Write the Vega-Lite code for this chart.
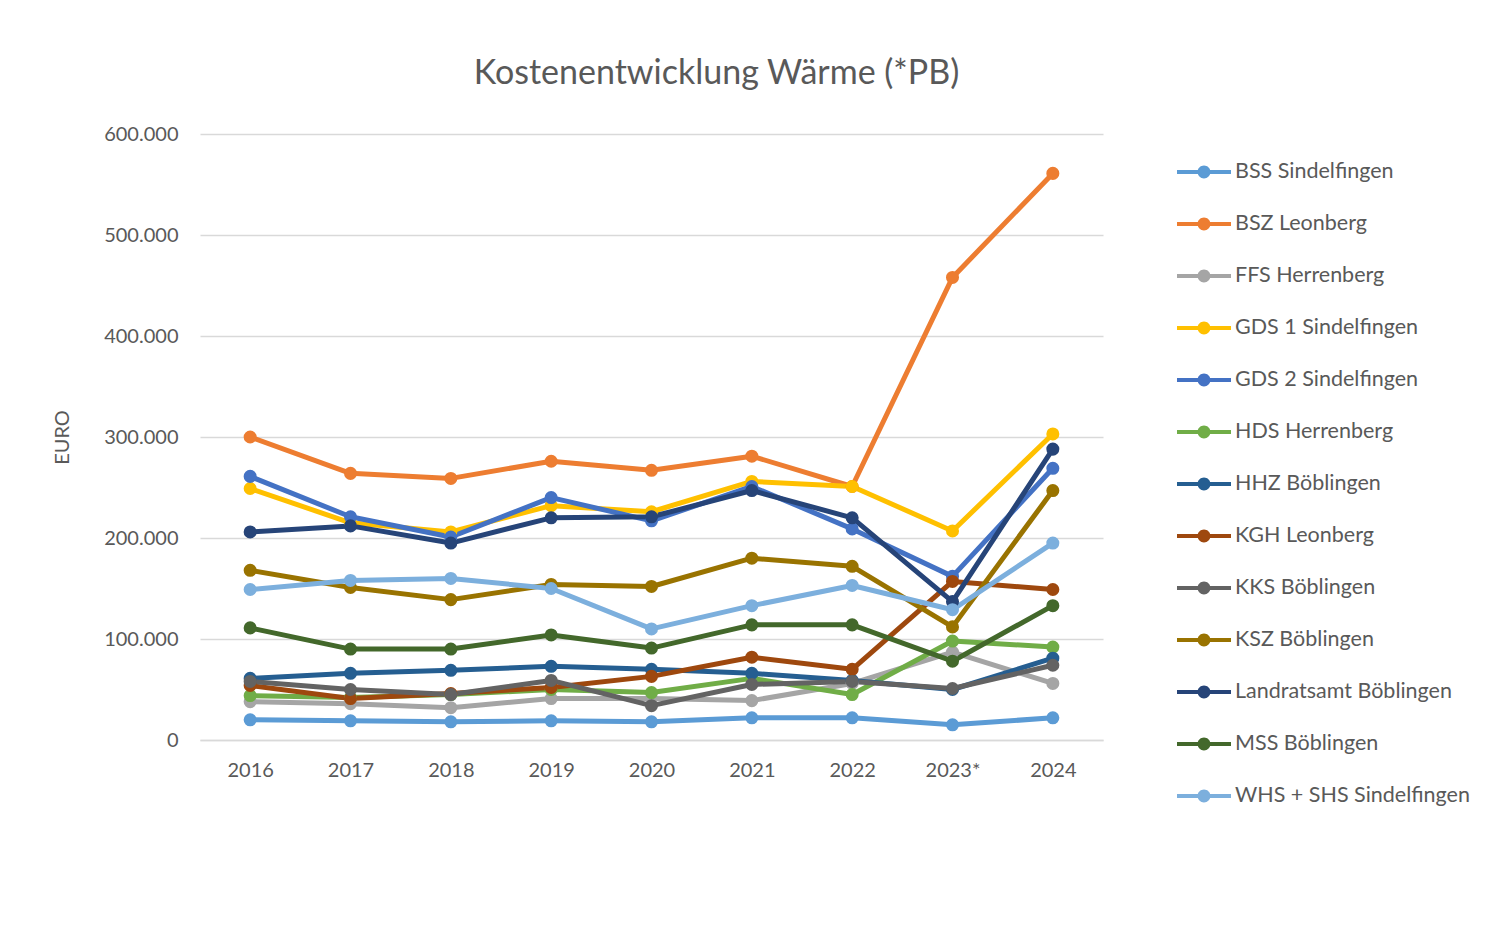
{
  "$schema": "https://vega.github.io/schema/vega-lite/v6.json",
  "width": 903,
  "height": 606,
  "autosize": {"type": "none"},
  "padding": {"left": 200, "top": 134, "right": 396, "bottom": 204},
  "background": "white",
  "title": {
    "text": "Kostenentwicklung Wärme (*PB)",
    "font": "Lato",
    "fontSize": 34,
    "fontWeight": "normal",
    "color": "#595959",
    "anchor": "middle",
    "dx": 65,
    "offset": 33
  },
  "data": {
    "values": [
      {"Jahr": "2016", "BSS Sindelfingen": 20000, "BSZ Leonberg": 300000, "FFS Herrenberg": 38000, "GDS 1 Sindelfingen": 249000, "GDS 2 Sindelfingen": 261000, "HDS Herrenberg": 44000, "HHZ Böblingen": 61000, "KGH Leonberg": 54000, "KKS Böblingen": 58000, "KSZ Böblingen": 168000, "Landratsamt Böblingen": 206000, "MSS Böblingen": 111000, "WHS + SHS Sindelfingen": 149000},
      {"Jahr": "2017", "BSS Sindelfingen": 19000, "BSZ Leonberg": 264000, "FFS Herrenberg": 36000, "GDS 1 Sindelfingen": 215000, "GDS 2 Sindelfingen": 221000, "HDS Herrenberg": 42000, "HHZ Böblingen": 66000, "KGH Leonberg": 41000, "KKS Böblingen": 50000, "KSZ Böblingen": 151000, "Landratsamt Böblingen": 212000, "MSS Böblingen": 90000, "WHS + SHS Sindelfingen": 158000},
      {"Jahr": "2018", "BSS Sindelfingen": 18000, "BSZ Leonberg": 259000, "FFS Herrenberg": 32000, "GDS 1 Sindelfingen": 206000, "GDS 2 Sindelfingen": 201000, "HDS Herrenberg": 45000, "HHZ Böblingen": 69000, "KGH Leonberg": 46000, "KKS Böblingen": 45000, "KSZ Böblingen": 139000, "Landratsamt Böblingen": 195000, "MSS Böblingen": 90000, "WHS + SHS Sindelfingen": 160000},
      {"Jahr": "2019", "BSS Sindelfingen": 19000, "BSZ Leonberg": 276000, "FFS Herrenberg": 41000, "GDS 1 Sindelfingen": 232000, "GDS 2 Sindelfingen": 240000, "HDS Herrenberg": 50000, "HHZ Böblingen": 73000, "KGH Leonberg": 52000, "KKS Böblingen": 59000, "KSZ Böblingen": 154000, "Landratsamt Böblingen": 220000, "MSS Böblingen": 104000, "WHS + SHS Sindelfingen": 150000},
      {"Jahr": "2020", "BSS Sindelfingen": 18000, "BSZ Leonberg": 267000, "FFS Herrenberg": 41000, "GDS 1 Sindelfingen": 226000, "GDS 2 Sindelfingen": 217000, "HDS Herrenberg": 47000, "HHZ Böblingen": 70000, "KGH Leonberg": 63000, "KKS Böblingen": 34000, "KSZ Böblingen": 152000, "Landratsamt Böblingen": 221000, "MSS Böblingen": 91000, "WHS + SHS Sindelfingen": 110000},
      {"Jahr": "2021", "BSS Sindelfingen": 22000, "BSZ Leonberg": 281000, "FFS Herrenberg": 39000, "GDS 1 Sindelfingen": 256000, "GDS 2 Sindelfingen": 251000, "HDS Herrenberg": 61000, "HHZ Böblingen": 66000, "KGH Leonberg": 82000, "KKS Böblingen": 55000, "KSZ Böblingen": 180000, "Landratsamt Böblingen": 247000, "MSS Böblingen": 114000, "WHS + SHS Sindelfingen": 133000},
      {"Jahr": "2022", "BSS Sindelfingen": 22000, "BSZ Leonberg": 251000, "FFS Herrenberg": 56000, "GDS 1 Sindelfingen": 251000, "GDS 2 Sindelfingen": 209000, "HDS Herrenberg": 45000, "HHZ Böblingen": 59000, "KGH Leonberg": 70000, "KKS Böblingen": 58000, "KSZ Böblingen": 172000, "Landratsamt Böblingen": 220000, "MSS Böblingen": 114000, "WHS + SHS Sindelfingen": 153000},
      {"Jahr": "2023*", "BSS Sindelfingen": 15000, "BSZ Leonberg": 458000, "FFS Herrenberg": 87000, "GDS 1 Sindelfingen": 207000, "GDS 2 Sindelfingen": 162000, "HDS Herrenberg": 98000, "HHZ Böblingen": 50000, "KGH Leonberg": 157000, "KKS Böblingen": 51000, "KSZ Böblingen": 112000, "Landratsamt Böblingen": 137000, "MSS Böblingen": 78000, "WHS + SHS Sindelfingen": 129000},
      {"Jahr": "2024", "BSS Sindelfingen": 22000, "BSZ Leonberg": 561000, "FFS Herrenberg": 56000, "GDS 1 Sindelfingen": 303000, "GDS 2 Sindelfingen": 269000, "HDS Herrenberg": 92000, "HHZ Böblingen": 81000, "KGH Leonberg": 149000, "KKS Böblingen": 74000, "KSZ Böblingen": 247000, "Landratsamt Böblingen": 288000, "MSS Böblingen": 133000, "WHS + SHS Sindelfingen": 195000}
    ]
  },
  "transform": [
    {"fold": ["BSS Sindelfingen", "BSZ Leonberg", "FFS Herrenberg", "GDS 1 Sindelfingen", "GDS 2 Sindelfingen", "HDS Herrenberg", "HHZ Böblingen", "KGH Leonberg", "KKS Böblingen", "KSZ Böblingen", "Landratsamt Böblingen", "MSS Böblingen", "WHS + SHS Sindelfingen"], "as": ["Standort", "Kosten"]}
  ],
  "encoding": {
    "x": {
      "field": "Jahr", "type": "ordinal", "sort": null,
      "scale": {"type": "point", "padding": 0.5},
      "axis": {"title": null, "labelAngle": 0, "labelFont": "Lato", "labelFontSize": 20, "labelColor": "#595959", "labelPadding": 20, "ticks": false, "domain": true, "domainColor": "#D9D9D9", "domainWidth": 1.5, "grid": false}
    },
    "y": {
      "field": "Kosten", "type": "quantitative",
      "scale": {"domain": [0, 600000], "nice": false},
      "axis": {"title": "EURO", "titleFont": "Lato", "titleFontSize": 20, "titleFontWeight": "normal", "titleColor": "#595959", "titlePadding": 31, "values": [0, 100000, 200000, 300000, 400000, 500000, 600000], "format": ",.0f", "labelFont": "Lato", "labelFontSize": 20, "labelColor": "#595959", "labelPadding": 22, "ticks": false, "domain": false, "grid": true, "gridColor": "#D9D9D9", "gridWidth": 1.5}
    },
    "color": {
      "field": "Standort", "type": "nominal",
      "scale": {
        "domain": ["BSS Sindelfingen", "BSZ Leonberg", "FFS Herrenberg", "GDS 1 Sindelfingen", "GDS 2 Sindelfingen", "HDS Herrenberg", "HHZ Böblingen", "KGH Leonberg", "KKS Böblingen", "KSZ Böblingen", "Landratsamt Böblingen", "MSS Böblingen", "WHS + SHS Sindelfingen"],
        "range": ["#5B9BD5", "#ED7D31", "#A5A5A5", "#FFC000", "#4472C4", "#70AD47", "#255E91", "#9E480E", "#636363", "#997300", "#264478", "#43682B", "#7CAFDD"]
      },
      "legend": {
        "title": null, "orient": "none", "legendX": 977, "legendY": 11,
        "symbolType": "M-1,-0.075 L1,-0.075 L1,0.075 L-1,0.075 Z M-0.24,0 A0.24,0.24 0 1,1 0.24,0 A0.24,0.24 0 1,1 -0.24,0 Z",
        "symbolSize": 2916, "symbolStrokeWidth": 0, "symbolOpacity": 1,
        "labelFont": "Lato", "labelFontSize": 21.5, "labelColor": "#595959", "labelOffset": 4, "labelLimit": 400,
        "rowPadding": 14
      }
    }
  },
  "layer": [
    {"mark": {"type": "line", "strokeWidth": 5, "strokeCap": "round", "strokeJoin": "round"}},
    {"mark": {"type": "point", "filled": true, "size": 170, "opacity": 1}}
  ],
  "config": {
    "view": {"stroke": null},
    "locale": {"number": {"decimal": ",", "thousands": ".", "grouping": [3], "currency": ["", " €"]}}
  }
}
